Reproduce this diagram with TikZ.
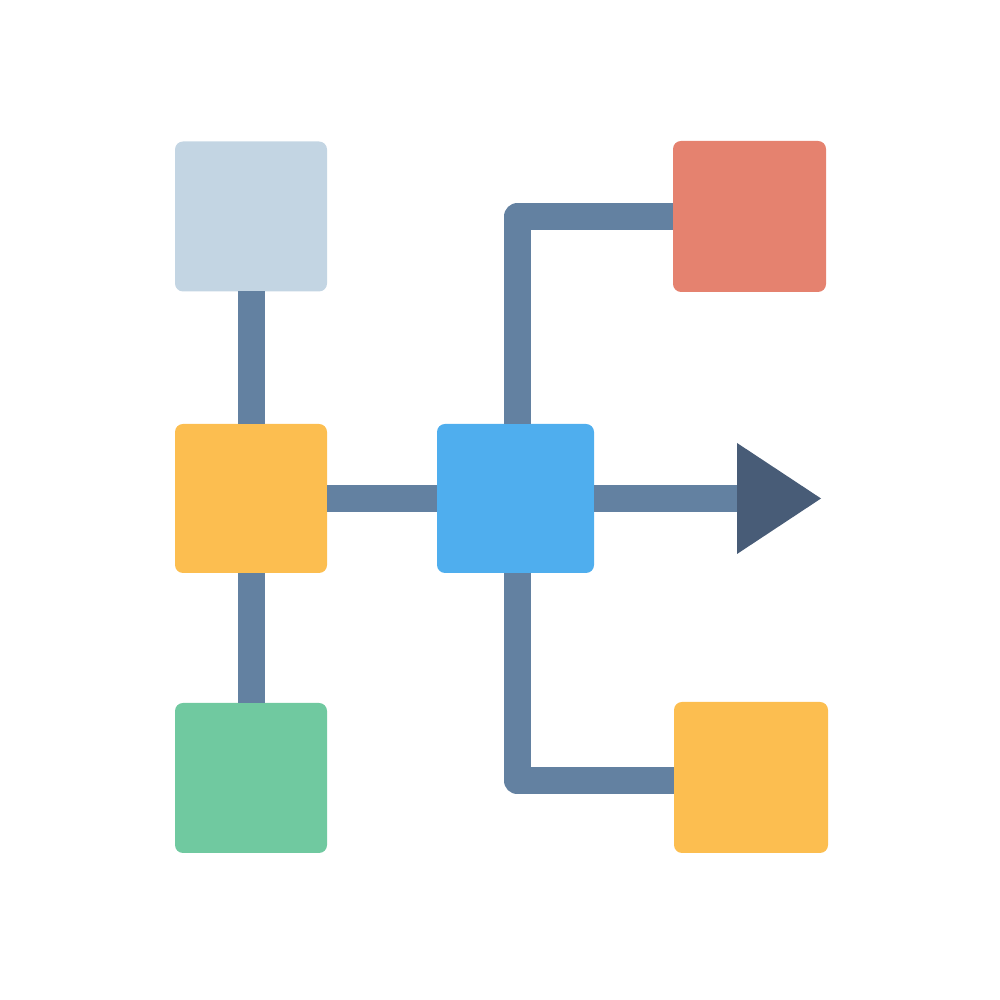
\documentclass[tikz,border=0pt]{standalone}
\usetikzlibrary{arrows.meta, positioning}

\definecolor{boxgray}{HTML}{C3D5E3}
\definecolor{boxyellow}{HTML}{FCBE50}
\definecolor{boxgreen}{HTML}{70C9A0}
\definecolor{boxblue}{HTML}{4FAEEE}
\definecolor{boxred}{HTML}{E5826F}
\definecolor{linkblue}{HTML}{6381A1}
\definecolor{headdark}{HTML}{485C77}

\tikzset{
  block/.style={rectangle, rounded corners=0.8mm, inner sep=0pt, outer sep=0pt, minimum width=1.52cm, minimum height=1.5cm},
  link/.style={draw=linkblue, line width=2.7mm, line join=round}
}

\begin{document}
\begin{tikzpicture}
\useasboundingbox (0,0) rectangle (10,10);

\node (LT) [block, fill=boxgray] at (2.51,7.835) {};
\node (LM) [block, fill=boxyellow, minimum height=1.49cm] at (2.51,5.015) {};
\node (LB) [block, fill=boxgreen] at (2.51,2.22) {};
\node (C) [block, fill=boxblue, minimum width=1.57cm, minimum height=1.49cm] at (5.155,5.015) {};
\node (RT) [block, fill=boxred, minimum width=1.53cm, minimum height=1.51cm] at (7.495,7.835) {};
\node (RB) [block, fill=boxyellow, minimum width=1.54cm, minimum height=1.51cm] at (7.51,2.225) {};
\coordinate (tip) at (8.21,5.015);

%Left column:
\path [link]
(LT) edge (LM)
(LM) edge (LB)
(LM) edge (C)
;

%Branches:
\draw [link] ([xshift=0.2mm]C.north) |- (RT.west);
\draw [link] ([xshift=0.2mm]C.south) |- ([yshift=-0.35mm]RB.west);

%Output:
\draw [link, -{Triangle[length=8.4mm, width=11.1mm, line width=0pt, fill=headdark, color=headdark]}] (C.east) -- (tip);

\end{tikzpicture}
\end{document}
